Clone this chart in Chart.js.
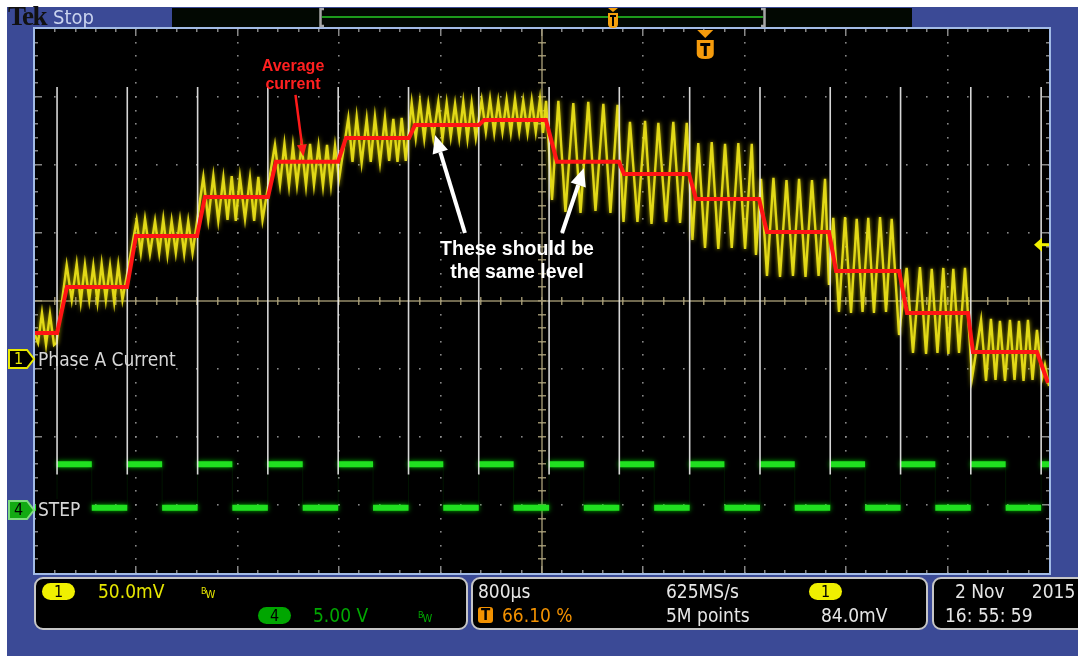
<!DOCTYPE html>
<html>
<head>
<meta charset="utf-8">
<title>Phase A Current / STEP</title>
<script src="https://cdn.jsdelivr.net/npm/chart.js@4.4.1/dist/chart.umd.min.js"></script>
<style>
  html, body { margin: 0; padding: 0; background: #ffffff; width: 1078px; height: 656px; overflow: hidden; }
  #frame { position: absolute; left: 7px; top: 7px; width: 1071px; height: 649px; background: #3b4a96; }
  #scope { position: absolute; left: 0; top: 0; }
  #shapes { position: absolute; left: 0; top: 0; }
  .lbl { position: absolute; font-family: "DejaVu Sans Condensed", "DejaVu Sans", sans-serif; font-size: 19px; line-height: 1; white-space: pre; }
  .panel { position: absolute; top: 577px; height: 53px; box-sizing: border-box; border: 2px solid #c6c6c6; border-radius: 9px; background: #000; }
  .pill { position: absolute; width: 33px; height: 17px; border-radius: 9px; text-align: center; font-family: "DejaVu Sans Condensed", "DejaVu Sans", sans-serif; font-size: 16px; line-height: 17px; color: #000; }
  .bw { position: absolute; font-family: "DejaVu Sans Condensed", "DejaVu Sans", sans-serif; font-size: 9px; line-height: 1; }
  .bw span { position: relative; top: 4px; left: -1px; font-size: 11px; }
  .note { position: absolute; font-family: "Liberation Sans", Arial, sans-serif; font-weight: bold; text-align: center; white-space: pre; }
</style>
</head>
<body>
<div id="frame"></div>
<canvas id="scope" width="1078" height="656"></canvas>

<svg id="shapes" width="1078" height="656">
  <!-- record view bar -->
  <rect x="172" y="8" width="740" height="19" fill="#020802"/>
  <line x1="322" y1="17" x2="763" y2="17" stroke="#1c9a1c" stroke-width="2"/>
  <path d="M324,9 L320.5,9 L320.5,26 L324,26" fill="none" stroke="#a6a6a6" stroke-width="2.5"/>
  <path d="M761,9 L764.5,9 L764.5,26 L761,26" fill="none" stroke="#a6a6a6" stroke-width="2.5"/>
  <polygon points="608,8 618,8 613,12" fill="#f5a00c"/>
  <path d="M608,13 L618,13 L618,24 Q618,28 613,28 Q608,28 608,24 Z" fill="#f5a00c"/>
  <rect x="610" y="15" width="6" height="2" fill="#000"/>
  <rect x="612" y="15" width="2" height="11" fill="#000"/>
  <!-- channel ground markers -->
  <polygon points="9,350 27,350 34,359 27,368 9,368" fill="#000" stroke="#e8e800" stroke-width="2"/>
  <polygon points="9,501 27,501 34,510 27,519 9,519" fill="#12aa12" stroke="#80dc80" stroke-width="2"/>
  <!-- trigger slope icon -->
  <polyline points="861,585 865,585 872,598" fill="none" stroke="#e6e6e6" stroke-width="1.6"/>
</svg>

<!-- top bar -->
<div class="lbl" style="left:8px;top:3px;font-family:'Liberation Serif',serif;font-weight:bold;font-size:27px;color:#111;letter-spacing:-1.5px;">Tek</div>
<div class="lbl" style="left:53px;top:7px;font-size:20px;color:#c9d3ee;">Stop</div>

<!-- channel marker labels -->
<div class="lbl" style="left:14px;top:351px;font-size:16px;color:#e8e800;">1</div>
<div class="lbl" style="left:14px;top:502px;font-size:16px;color:#000;">4</div>
<div class="lbl" style="left:38px;top:350px;color:#d6d6d6;">Phase A Current</div>
<div class="lbl" style="left:36px;top:499px;width:48px;height:22px;background:#000;"></div>
<div class="lbl" style="left:38px;top:500px;color:#d6d6d6;">STEP</div>

<!-- annotations -->
<div class="note" style="left:233px;top:57px;width:120px;font-size:16px;line-height:18px;color:#ff2020;">Average
current</div>
<div class="note" style="left:397px;top:237px;width:240px;font-size:19.5px;line-height:23px;color:#ffffff;">These should be
the same level</div>

<!-- status panels -->
<div class="panel" style="left:34px;width:434px;"></div>
<div class="panel" style="left:471px;width:457px;"></div>
<div class="panel" style="left:932px;width:170px;"></div>

<div class="pill" style="left:42px;top:583px;background:#f0f000;">1</div>
<div class="lbl" style="left:98px;top:582px;color:#e6e600;">50.0mV</div>
<div class="bw" style="left:201px;top:585px;color:#e6e600;">B<span>W</span></div>
<div class="pill" style="left:258px;top:607px;background:#00a600;">4</div>
<div class="lbl" style="left:313px;top:606px;color:#00a800;">5.00 V</div>
<div class="bw" style="left:418px;top:609px;color:#00a800;">B<span>W</span></div>

<div class="lbl" style="left:478px;top:582px;color:#e6e6e6;">800µs</div>
<div class="lbl" style="left:478px;top:607px;width:15px;height:16px;border-radius:3px;background:#f29100;color:#000;font-size:15px;font-weight:bold;text-align:center;line-height:16px;">T</div>
<div class="lbl" style="left:502px;top:606px;color:#f29100;">66.10 %</div>
<div class="lbl" style="left:666px;top:582px;color:#e6e6e6;">625MS/s</div>
<div class="lbl" style="left:666px;top:606px;color:#e6e6e6;">5M points</div>
<div class="pill" style="left:809px;top:583px;background:#f0f000;">1</div>
<div class="lbl" style="left:821px;top:606px;color:#e6e6e6;">84.0mV</div>

<div class="lbl" style="left:955px;top:582px;color:#e6e6e6;">2 Nov     2015</div>
<div class="lbl" style="left:945px;top:606px;color:#e6e6e6;">16: 55: 59</div>

<script>
// scope settings
const US_PER_DIV = 800;            // 800 µs/div
const MV_PER_DIV = 50;             // CH1 50.0 mV/div
const T_MIN = -5288;               // trigger at 66.10 % of the 8 ms record
const T_MAX = 2712;
const CH1_MIN = -157.4, CH1_MAX = 242.6;  // CH1 ground marker
const CH4_MIN = -4.6, CH4_MAX = 35.4;     // CH4 5.00 V/div
const TRIG_TIME = 0;
const TRIG_LEVEL = 84.0;           // mV, falling edge

// CH1 - Phase A current (mV), peaks and troughs of the ripple
const phaseTime = [
  -5288, -5264, -5233, -5201, -5170, -5138, -5118,
  -5038, -4998, -4959, -4927, -4894, -4860, -4828, -4795, -4762, -4729, -4696, -4663, -4631, -4598,
  -4486, -4453, -4420, -4381, -4341, -4308, -4276, -4243, -4210, -4177, -4144, -4111, -4079, -4045,
  -3960, -3921, -3881, -3842, -3802, -3769, -3736, -3704, -3671, -3631, -3592, -3559, -3526, -3493,
  -3395, -3355, -3320, -3284, -3253, -3221, -3185, -3150, -3118, -3087, -3051, -3016, -2984, -2953, -2921, -2890,
  -2816, -2783, -2750, -2711, -2671, -2639, -2606, -2566, -2527, -2494, -2461, -2428, -2395, -2363,
  -2316, -2284, -2251, -2217, -2185, -2146, -2106, -2073, -2040, -2008, -1974, -1941, -1909, -1876, -1843, -1810,
  -1764, -1731, -1698, -1665, -1633, -1600, -1567, -1534, -1501, -1468, -1436, -1402, -1369, -1337, -1304, -1280, -1256, -1209,
  -1159, -1103, -1041, -984, -923, -866, -804, -748, -692, -645,
  -594, -535, -475, -424, -370, -310, -252, -199, -146, -101,
  -55, -2, 51, 103, 156, 209, 261, 314, 367, 400,
  440, 487, 538, 590, 641, 692, 740, 791, 842, 894, 945, 976,
  1010, 1055, 1103, 1150, 1195, 1241, 1286, 1331, 1379, 1426, 1471, 1529,
  1589, 1639, 1694, 1742, 1787, 1832, 1878, 1918, 1957, 2002, 2049, 2105,
  2176, 2215, 2254, 2290, 2325, 2365, 2404, 2440, 2475, 2511, 2546, 2582, 2617, 2657, 2680, 2712
];
const phaseMv = [
  17.6, 11.8, 33.8, 10.3, 33.1, 10.3, 11.8,
  69.1, 43.4, 69.9, 41.9, 69.1, 43.4, 68.4, 41.9, 69.9, 43.4, 68.4, 41.9, 69.1, 43.4,
  102.2, 77.9, 103.0, 77.2, 101.5, 77.9, 102.9, 76.5, 101.5, 77.9, 102.2, 77.2, 101.5, 77.9,
  133.8, 102.2, 134.5, 101.5, 133.1, 102.2, 134.5, 101.5, 133.8, 102.9, 133.1, 101.5, 133.8, 102.2,
  157.4, 127.9, 158.1, 127.2, 156.6, 127.9, 157.4, 127.2, 158.1, 127.9, 156.6, 127.2, 157.4, 127.9, 156.6, 131.6,
  177.2, 144.9, 177.9, 144.2, 176.5, 144.9, 177.9, 144.2, 177.2, 145.6, 176.5, 144.9, 177.2, 145.6,
  188.2, 162.5, 188.9, 161.8, 187.5, 162.5, 188.9, 161.8, 188.2, 163.2, 187.5, 162.5, 188.9, 161.8, 188.2, 162.5,
  190.4, 166.9, 191.1, 166.2, 189.7, 166.9, 190.4, 166.2, 191.1, 166.9, 189.7, 166.2, 190.4, 166.9, 191.1, 166.2, 189.7, 116.9,
  189.7, 108.1, 188.2, 107.4, 189.0, 108.8, 187.5, 107.4, 186.8, 100.7,
  174.3, 100.7, 175.0, 99.3, 173.6, 100.7, 174.3, 100.0, 173.6, 87.5,
  158.8, 81.6, 159.5, 80.9, 158.1, 81.6, 158.8, 80.9, 158.1, 76.5,
  132.4, 61.0, 133.1, 60.3, 131.6, 61.0, 132.4, 60.3, 131.6, 61.0, 132.4, 54.4,
  103.7, 34.6, 104.4, 33.8, 103.0, 34.6, 103.7, 33.8, 104.4, 34.6, 103.0, 17.6,
  66.9, 4.4, 67.6, 3.7, 66.2, 4.4, 66.9, 3.7, 66.2, 4.4, 66.9, -14.0,
  28.7, -16.2, 29.4, -15.5, 28.0, -16.2, 28.7, -15.5, 28.0, -16.2, 28.7, -15.5, 21.3, -14.0, -4.4, -19.9
];

// hand-drawn average current (mV)
const avgTime = [-5288, -5114, -5036, -4562, -4491, -4010, -3947, -3450, -3387, -2898, -2834, -2337, -2290, -1785, -1746,
  -1257, -1170, -681, -641, -128, -73, 424, 487, 976, 1032, 1529, 1592, 2073, 2112, 2617, 2704];
const avgMv = [19.1, 19.1, 52.9, 52.9, 90.4, 90.4, 119.1, 119.1, 144.9, 144.9, 162.5, 162.5, 172.1, 172.1, 175.7,
  175.7, 144.9, 144.9, 136.0, 136.0, 117.6, 117.6, 93.4, 93.4, 64.7, 64.7, 33.8, 33.8, 5.1, 5.1, -17.6];

// CH4 - STEP (V), level starting at each edge
const stepTime = [-5288, -5114, -4840, -4560, -4285, -4005, -3731, -3451, -3176, -2896, -2621, -2341, -2067, -1787, -1512,
  -1232, -958, -678, -403, -123, 151, 432, 706, 986, 1261, 1541, 1815, 2095, 2370, 2650];
const stepVolt = [0.2, 3.4, 0.2, 3.4, 0.2, 3.4, 0.2, 3.4, 0.2, 3.4, 0.2, 3.4, 0.2, 3.4, 0.2,
  3.4, 0.2, 3.4, 0.2, 3.4, 0.2, 3.4, 0.2, 3.4, 0.2, 3.4, 0.2, 3.4, 0.2, 3.4];

// white marker lines at each STEP rising edge (CH1 mV span)
const markerTime = [-5114, -4560, -4005, -3451, -2896, -2341, -1787, -1232, -678, -123, 432, 986, 1541, 2095, 2650];
const markerTopMv = 200, markerBottomMv = -85;

// annotation arrows: tail and tip in (µs, mV)
const arrowTail = [[-1896, 92.6], [-1130, 92.6], [-3233, 194.1]];
const arrowTip = [[-2132, 164.7], [-957, 140.4], [-3170, 148.9]];
const arrowColor = ['#ffffff', '#ffffff', '#ff1a1a'];

// ---- build the tables Chart.js wants
const xy = (xs, ys) => xs.map((x, i) => ({ x: x, y: ys[i] }));

const stepLevels = [];
stepTime.forEach((t, i) => {
  const end = i + 1 < stepTime.length ? stepTime[i + 1] : T_MAX;
  stepLevels.push({ x: t, y: stepVolt[i] }, { x: end, y: stepVolt[i] }, { x: end, y: null });
});
const stepEdges = xy(stepTime, stepVolt).concat([{ x: T_MAX, y: stepVolt[stepVolt.length - 1] }]);

const markerLines = [];
markerTime.forEach(t => {
  markerLines.push({ x: t, y: markerTopMv }, { x: t, y: markerBottomMv }, { x: t, y: null });
});

// ---- plugins
const glow = {
  id: 'glow',
  beforeDatasetDraw(chart, args) {
    const ds = chart.data.datasets[args.index];
    if (!ds.glowColor) return;
    chart.ctx.save();
    chart.ctx.shadowColor = ds.glowColor;
    chart.ctx.shadowBlur = ds.glowBlur;
  },
  afterDatasetDraw(chart, args) {
    if (chart.data.datasets[args.index].glowColor) chart.ctx.restore();
  }
};

function drawArrow(ctx, x1, y1, x2, y2, color, width, headLen, headHalf) {
  const a = Math.atan2(y2 - y1, x2 - x1);
  const bx = x2 - headLen * Math.cos(a), by = y2 - headLen * Math.sin(a);
  ctx.strokeStyle = color;
  ctx.fillStyle = color;
  ctx.lineWidth = width;
  ctx.beginPath();
  ctx.moveTo(x1, y1);
  ctx.lineTo(bx, by);
  ctx.stroke();
  ctx.beginPath();
  ctx.moveTo(x2, y2);
  ctx.lineTo(bx + headHalf * Math.sin(a), by - headHalf * Math.cos(a));
  ctx.lineTo(bx - headHalf * Math.sin(a), by + headHalf * Math.cos(a));
  ctx.closePath();
  ctx.fill();
}

const scopeScreen = {
  id: 'scopeScreen',
  beforeDraw(chart) {
    const { ctx, chartArea: a } = chart;
    ctx.save();
    ctx.fillStyle = '#000';
    ctx.fillRect(a.left, a.top, a.right - a.left, a.bottom - a.top);
    ctx.restore();
  },
  beforeDatasetsDraw(chart) {
    const { ctx, chartArea: a, scales } = chart;
    const xs = [], ys = [];
    for (let k = 0; k <= 50; k++) xs.push(scales.x.getPixelForValue(T_MIN + k * US_PER_DIV / 5));
    for (let k = 0; k <= 40; k++) ys.push(scales.y1.getPixelForValue(CH1_MAX - k * MV_PER_DIV / 5));
    ctx.save();
    ctx.fillStyle = 'rgba(150,150,150,0.9)';
    const dot = (x, y) => ctx.fillRect(Math.round(x) - 1, Math.round(y) - 1, 1.6, 1.6);
    for (let i = 5; i < 50; i += 5) for (let j = 0; j <= 40; j++) dot(xs[i], ys[j]);
    for (let j = 5; j < 40; j += 5) for (let i = 0; i <= 50; i++) dot(xs[i], ys[j]);
    // edge ticks
    for (let i = 1; i < 50; i++) {
      const l = i % 5 === 0 ? 7 : 3;
      ctx.fillRect(Math.round(xs[i]) - 1, a.top, 1.5, l);
      ctx.fillRect(Math.round(xs[i]) - 1, a.bottom - l, 1.5, l);
    }
    for (let j = 1; j < 40; j++) {
      const l = j % 5 === 0 ? 7 : 3;
      ctx.fillRect(a.left, Math.round(ys[j]) - 1, l, 1.5);
      ctx.fillRect(a.right - l, Math.round(ys[j]) - 1, l, 1.5);
    }
    // centre cross with minor ticks
    const cx = xs[25], cy = ys[20];
    ctx.strokeStyle = 'rgba(165,155,118,0.9)';
    ctx.lineWidth = 1.5;
    ctx.beginPath();
    ctx.moveTo(a.left, cy); ctx.lineTo(a.right, cy);
    ctx.moveTo(cx, a.top); ctx.lineTo(cx, a.bottom);
    ctx.stroke();
    ctx.fillStyle = 'rgba(165,155,118,0.9)';
    for (let i = 1; i < 50; i++) ctx.fillRect(Math.round(xs[i]) - 1, cy - 4, 1.5, 8);
    for (let j = 1; j < 40; j++) ctx.fillRect(cx - 4, Math.round(ys[j]) - 1, 8, 1.5);
    ctx.restore();
  },
  afterDatasetsDraw(chart) {
    const { ctx, chartArea: a, scales } = chart;
    ctx.save();
    // trigger position marker
    const tx = scales.x.getPixelForValue(TRIG_TIME);
    ctx.fillStyle = '#f59b0c';
    ctx.beginPath();
    ctx.moveTo(tx - 8, a.top + 1); ctx.lineTo(tx + 8, a.top + 1); ctx.lineTo(tx, a.top + 9);
    ctx.closePath(); ctx.fill();
    ctx.beginPath();
    ctx.moveTo(tx - 8.5, a.top + 11);
    ctx.lineTo(tx + 8.5, a.top + 11);
    ctx.lineTo(tx + 8.5, a.top + 25);
    ctx.quadraticCurveTo(tx + 8.5, a.top + 30, tx, a.top + 30);
    ctx.quadraticCurveTo(tx - 8.5, a.top + 30, tx - 8.5, a.top + 25);
    ctx.closePath(); ctx.fill();
    ctx.fillStyle = '#000';
    ctx.fillRect(tx - 5, a.top + 14, 10, 3);
    ctx.fillRect(tx - 1.5, a.top + 14, 3, 13);
    // trigger level marker
    const ty = scales.y1.getPixelForValue(TRIG_LEVEL);
    ctx.fillStyle = '#f0f000';
    ctx.beginPath();
    ctx.moveTo(a.right - 15, ty); ctx.lineTo(a.right - 7, ty - 7); ctx.lineTo(a.right - 7, ty + 7);
    ctx.closePath(); ctx.fill();
    ctx.fillRect(a.right - 8, ty - 1.5, 8, 3);
    // annotation arrows
    arrowTail.forEach((p, i) => {
      const q = arrowTip[i];
      const red = i === 2;
      drawArrow(ctx, scales.x.getPixelForValue(p[0]), scales.y1.getPixelForValue(p[1]),
        scales.x.getPixelForValue(q[0]), scales.y1.getPixelForValue(q[1]),
        arrowColor[i], red ? 2.5 : 4, red ? 12 : 18, red ? 5 : 8);
    });
    // screen border
    ctx.strokeStyle = '#a2bbe6';
    ctx.lineWidth = 2;
    ctx.strokeRect(a.left - 1, a.top - 1, a.right - a.left + 2, a.bottom - a.top + 2);
    ctx.restore();
  }
};

new Chart(document.getElementById('scope'), {
  type: 'line',
  data: {
    datasets: [
      { label: 'Average current', data: xy(avgTime, avgMv), yAxisID: 'y1',
        borderColor: '#ff1414', borderWidth: 4, borderJoinStyle: 'miter' },
      { label: 'Step markers', data: markerLines, yAxisID: 'y1',
        borderColor: 'rgba(232,232,232,0.92)', borderWidth: 1.6 },
      { label: 'Phase A Current', data: xy(phaseTime, phaseMv), yAxisID: 'y1',
        borderColor: 'rgba(232,222,24,0.95)', borderWidth: 2.4,
        glowColor: 'rgba(215,205,0,0.9)', glowBlur: 4 },
      { label: 'STEP', data: stepLevels, yAxisID: 'y4',
        borderColor: '#20e020', borderWidth: 6, borderCapStyle: 'butt',
        glowColor: 'rgba(0,200,0,0.9)', glowBlur: 5 },
      { label: 'STEP edges', data: stepEdges, yAxisID: 'y4', stepped: 'before',
        borderColor: 'rgba(0,140,0,0.15)', borderWidth: 1 }
    ]
  },
  options: {
    responsive: false,
    animation: false,
    events: [],
    layout: { padding: { left: 35, top: 29, right: 29, bottom: 83 } },
    elements: { point: { radius: 0 }, line: { tension: 0, fill: false } },
    plugins: { legend: { display: false }, tooltip: { enabled: false } },
    scales: {
      x: { type: 'linear', min: T_MIN, max: T_MAX, display: false },
      y1: { type: 'linear', min: CH1_MIN, max: CH1_MAX, display: false },
      y4: { type: 'linear', min: CH4_MIN, max: CH4_MAX, display: false }
    }
  },
  plugins: [glow, scopeScreen]
});
</script>
</body>
</html>
